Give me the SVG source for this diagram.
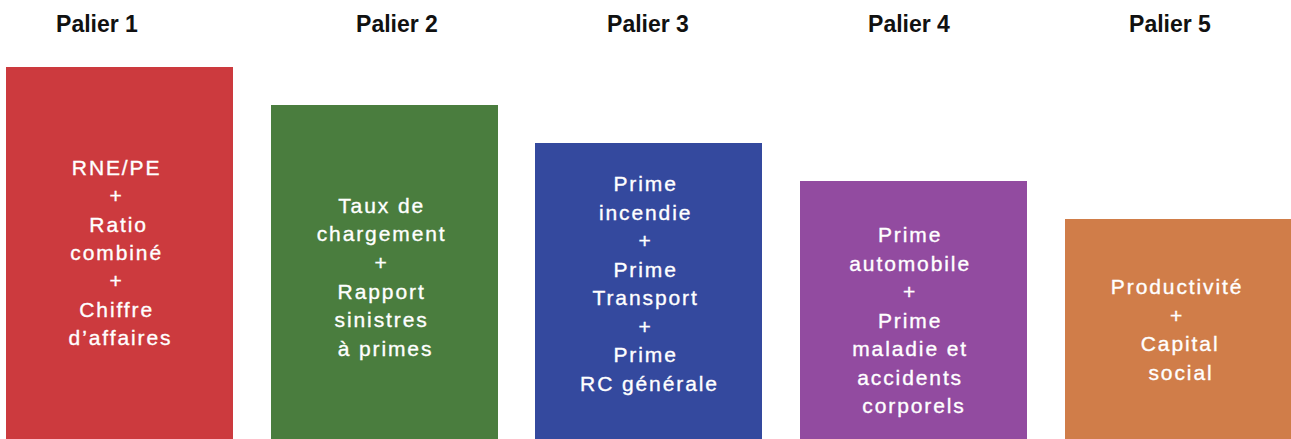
<svg xmlns="http://www.w3.org/2000/svg" width="1291" height="439" viewBox="0 0 1291 439">
<style>
.hd{font-family:"Liberation Sans",Arial,sans-serif;font-size:23px;font-weight:bold;fill:#111;text-anchor:middle}
.bt{font-family:"Liberation Sans",Arial,sans-serif;font-size:21px;letter-spacing:1.9px;fill:#fff;text-anchor:middle;stroke:#fff;stroke-width:0.35px}
</style>
<rect width="1291" height="439" fill="#fff"/>
<g id="headers">
<text class="hd" x="97" y="32">Palier 1</text>
<text class="hd" x="397" y="32">Palier 2</text>
<text class="hd" x="648" y="32">Palier 3</text>
<text class="hd" x="909" y="32">Palier 4</text>
<text class="hd" x="1170" y="32">Palier 5</text>
</g>
<g id="palier1">
<rect x="6" y="67" width="227" height="372" fill="#CC3A3E"/>
<text class="bt" x="120.5" y="175">
<tspan x="120.5" y="175">RNE/PE</tspan>
<tspan x="120.5" y="203.3">+</tspan>
<tspan x="122.5" y="231.7">Ratio</tspan>
<tspan x="120.5" y="260">combiné</tspan>
<tspan x="120.5" y="288.3">+</tspan>
<tspan x="120.5" y="316.7">Chiffre</tspan>
<tspan x="120.5" y="345">d’affaires</tspan>
</text>
</g>
<g id="palier2">
<rect x="271" y="105" width="227" height="334" fill="#4A7D3E"/>
<text class="bt">
<tspan x="385.5" y="212.7">Taux de</tspan>
<tspan x="385.5" y="241.3">chargement</tspan>
<tspan x="385.5" y="269.9">+</tspan>
<tspan x="385.5" y="298.5">Rapport</tspan>
<tspan x="385.5" y="327.1">sinistres</tspan>
<tspan x="385.5" y="355.7">à primes</tspan>
</text>
</g>
<g id="palier3">
<rect x="535" y="143" width="227" height="296" fill="#34499E"/>
<text class="bt">
<tspan x="649.5" y="191">Prime</tspan>
<tspan x="649.5" y="219.5">incendie</tspan>
<tspan x="649.5" y="248">+</tspan>
<tspan x="649.5" y="276.5">Prime</tspan>
<tspan x="649.5" y="305">Transport</tspan>
<tspan x="649.5" y="333.5">+</tspan>
<tspan x="649.5" y="362">Prime</tspan>
<tspan x="649.5" y="390.5">RC générale</tspan>
</text>
</g>
<g id="palier4">
<rect x="800" y="181" width="227" height="258" fill="#924BA0"/>
<text class="bt">
<tspan x="914" y="242.3">Prime</tspan>
<tspan x="914" y="270.8">automobile</tspan>
<tspan x="914" y="299.3">+</tspan>
<tspan x="914" y="327.8">Prime</tspan>
<tspan x="914" y="356.3">maladie et</tspan>
<tspan x="914" y="384.8">accidents</tspan>
<tspan x="914" y="413.3">corporels</tspan>
</text>
</g>
<g id="palier5">
<rect x="1065" y="219" width="226" height="220" fill="#D07D49"/>
<text class="bt">
<tspan x="1181" y="294">Productivité</tspan>
<tspan x="1181" y="322.5">+</tspan>
<tspan x="1184" y="351">Capital</tspan>
<tspan x="1181" y="379.5">social</tspan>
</text>
</g>
<g id="connectors"/>
</svg>
